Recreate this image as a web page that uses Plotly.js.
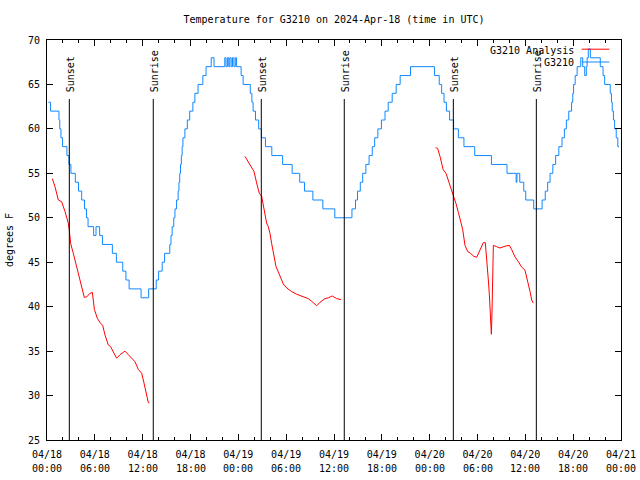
<!DOCTYPE html>
<html>
<head>
<meta charset="utf-8">
<script src="https://cdn.plot.ly/plotly-3.0.1.min.js"></script>
<style>html,body{margin:0;padding:0;background:#fff;}#chart{width:640px;height:480px;}</style>
</head>
<body>
<div id="chart"></div>
<script>
// ---- data (hours after 2024-04-18 00:00 UTC) ----
const stationHours = [0.17,0.45,1.5,1.6,1.75,1.95,2.5,2.75,3.0,3.55,3.95,4.35,4.7,4.95,5.15,5.85,6.15,6.6,6.95,8.2,8.7,9.5,9.9,10.3,11.8,12.75,13.7,14.0,14.45,14.75,15.4,15.55,15.7,15.9,16.05,16.25,16.45,16.55,16.65,16.75,16.85,16.95,17.05,17.3,17.6,17.9,18.3,18.55,18.95,19.55,19.95,20.6,20.95,22.3,22.45,22.63,22.8,22.93,23.1,23.27,23.45,23.62,23.78,24.35,24.6,25.5,25.7,25.85,26.15,26.55,26.9,27.4,28.2,29.55,30.75,31.7,32.3,33.35,34.6,36.1,38.25,38.7,38.95,39.3,39.6,40.0,40.4,40.8,41.1,41.5,41.95,42.4,42.8,43.3,43.8,44.3,45.6,48.6,49.2,49.5,49.8,50.1,50.5,51.0,51.6,52.3,53.65,55.75,57.7,58.85,58.95,59.3,59.8,60.05,61.05,62.1,62.5,62.8,63.1,63.45,63.8,64.2,64.6,64.9,65.15,65.45,65.8,65.95,66.05,66.25,66.5,66.95,67.2,67.45,67.65,67.75,67.9,68.15,69.4,69.75,69.95,70.65,70.8,70.9,71.05,71.2,71.4,71.6,71.75];
const stationTemps = [63,62,61,60,59,58,57,56,55,54,53,52,51,50,49,48,49,48,47,46,45,44,43,42,41,42,43,44,45,46,47,48,49,50,51,52,53,54,55,56,57,58,59,60,61,62,63,64,65,66,67,68,67,68,67,68,67,68,67,68,67,68,67,66,65,64,63,62,61,60,59,58,57,56,55,54,53,52,51,50,51,52,53,54,55,56,57,58,59,60,61,62,63,64,65,66,67,66,65,64,63,62,61,60,59,58,57,56,55,54,55,54,53,52,51,52,53,54,55,56,57,58,59,60,61,62,63,64,65,66,67,68,67,66,67,68,69,68,67,66,65,64,63,62,61,60,59,58,58];

const analysisHours1 = [0.67,1.0,1.42,1.84,2.26,2.67,2.8,2.97,3.3,3.72,4.14,4.43,4.68,4.98,5.39,5.69,5.94,6.31,6.65,6.98,7.28,7.69,7.99,8.32,8.74,9.16,9.78,10.2,10.6,11.04,11.45,11.88,12.17,12.42,12.71,12.84];
const analysisTemps1 = [54.4,53.5,52.0,51.8,50.7,49.4,48.6,47.1,46.0,44.5,43.0,42.1,41.05,41.1,41.5,41.6,39.7,38.7,38.2,37.9,36.8,35.7,35.5,34.9,34.2,34.6,35.0,34.6,34.2,33.8,32.95,32.5,31.4,30.25,29.2,29.2];
const analysisHours2 = [24.84,25.25,25.67,25.97,26.3,26.63,26.93,27.22,27.55,27.76,27.97,28.18,28.39,28.73,29.02,29.31,29.64,30.07,30.69,31.32,31.95,32.78,33.2,33.83,34.25,34.87,35.29,35.79,36.34,36.88];
const analysisTemps2 = [56.9,56.3,55.75,55.2,53.9,52.75,52.4,50.9,49.4,49.0,48.25,47.1,46.0,44.5,43.9,43.2,42.55,42.1,41.7,41.4,41.2,40.9,40.6,40.1,40.5,40.9,41.0,41.2,40.9,40.8];
const analysisHours3 = [48.75,49.0,49.3,49.7,50.05,50.47,50.89,51.3,51.6,51.9,52.14,52.43,52.77,53.14,53.48,53.9,54.23,54.53,54.73,54.98,55.15,55.36,55.49,55.57,55.65,55.74,55.82,55.9,55.99,56.4,56.8,57.45,58.0,58.3,58.7,59.1,59.5,59.96,60.17,60.38,60.59,60.8,61.0];
const analysisTemps3 = [57.9,57.8,56.9,55.4,55.0,53.9,52.9,51.6,50.6,49.6,48.7,46.9,46.2,46.0,45.7,45.55,46.2,46.9,47.2,47.2,44.7,43.0,41.3,39.6,37.75,36.9,39.4,44.5,46.9,46.75,46.6,46.8,46.9,46.4,45.6,45.1,44.5,44.1,43.4,42.6,41.7,40.75,40.4];

const sunsetHours = [2.80, 26.88, 50.97];
const sunriseHours = [13.33, 37.29, 61.38];

const tickHours = [0,6,12,18,24,30,36,42,48,54,60,66,72];
const tickDates = ["04/18","04/18","04/18","04/18","04/19","04/19","04/19","04/19","04/20","04/20","04/20","04/20","04/21"];
const tickTimes = ["00:00","06:00","12:00","18:00","00:00","06:00","12:00","18:00","00:00","06:00","12:00","18:00","00:00"];

const seriesNames = ["G3210 Analysis", "G3210"];
const RED = "#ff0000", BLUE = "rgb(16,136,255)";
const FONT = "DejaVu Sans Mono";

// ---- traces ----
const traces = [
  {x: analysisHours1, y: analysisTemps1, mode: "lines", line: {color: RED, width: 1}, name: seriesNames[0], showlegend: false},
  {x: analysisHours2, y: analysisTemps2, mode: "lines", line: {color: RED, width: 1}, name: seriesNames[0], showlegend: false},
  {x: analysisHours3, y: analysisTemps3, mode: "lines", line: {color: RED, width: 1}, name: seriesNames[0], showlegend: false},
  {x: stationHours, y: stationTemps, mode: "lines", line: {color: BLUE, width: 1, shape: "hv"}, name: seriesNames[1], showlegend: false}
];

const shapes = [];
const annotations = [];
const lineTop = 63.36;
const labelBottom = 64.15;
function sunMark(h, label) {
  shapes.push({type: "line", xref: "x", yref: "y", x0: h, x1: h, y0: 25, y1: lineTop, line: {color: "#000", width: 1}});
  annotations.push({xref: "x", yref: "y", x: h, y: labelBottom, text: label, textangle: -90, showarrow: false,
    xanchor: "center", yanchor: "bottom", xshift: 1, yshift: -2, font: {family: FONT, size: 10, color: "#000"}});
}
sunsetHours.forEach(h => sunMark(h, "Sunset"));
sunriseHours.forEach(h => sunMark(h, "Sunrise"));

// second row of the time-axis labels (gnuplot spacing)
tickHours.forEach((h, i) => {
  annotations.push({xref: "x", yref: "paper", x: h, y: -0.07, text: tickTimes[i], showarrow: false,
    xanchor: "center", yanchor: "middle", font: {family: FONT, size: 10, color: "#000"}});
});

// manual gnuplot-style key (text left, sample right)
const keyY = [0.975, 0.943];
const keyColors = [RED, BLUE];
seriesNames.forEach((n, i) => {
  annotations.push({xref: "paper", yref: "paper", x: 0.921, y: keyY[i], text: n, showarrow: false,
    xanchor: "right", yanchor: "middle", font: {family: FONT, size: 10, color: "#000"}});
  shapes.push({type: "line", xref: "paper", yref: "paper", x0: 0.9315, x1: 0.9796, y0: keyY[i] + 0.002, y1: keyY[i] + 0.002, line: {color: keyColors[i], width: 1}});
});

const layout = {
  width: 640, height: 480,
  margin: {l: 47, r: 19, t: 40, b: 40, pad: 0},
  paper_bgcolor: "#fff", plot_bgcolor: "#fff",
  font: {family: FONT, size: 10, color: "#000"},
  title: {text: "Temperature for G3210 on 2024-Apr-18 (time in UTC)", font: {family: FONT, size: 10, color: "#000"},
    x: 0.5, xref: "paper", xanchor: "center", y: 1 - 19/480, yref: "container", yanchor: "middle"},
  xaxis: {range: [0, 72], tickmode: "array", tickvals: tickHours, ticktext: tickDates,
    ticks: "inside", ticklen: 6, tickcolor: "#000", showline: true, linecolor: "#000", linewidth: 1,
    mirror: "allticks", showgrid: false, zeroline: false, fixedrange: true, ticklabelstandoff: 5,
    minor: {tickmode: "linear", tick0: 0, dtick: 2, ticks: "inside", ticklen: 3, tickcolor: "#000", showgrid: false},
    tickfont: {family: FONT, size: 10, color: "#000"}},
  yaxis: {range: [25, 70], tickmode: "linear", tick0: 25, dtick: 5,
    ticks: "inside", ticklen: 6, tickcolor: "#000", showline: true, linecolor: "#000", linewidth: 1,
    mirror: "allticks", showgrid: false, zeroline: false, fixedrange: true, ticklabelstandoff: 4,
    tickfont: {family: FONT, size: 10, color: "#000"},
    title: {text: "degrees F", font: {family: FONT, size: 10, color: "#000"}, standoff: 12}},
  showlegend: false,
  shapes: shapes,
  annotations: annotations
};

Plotly.newPlot("chart", traces, layout, {staticPlot: true, displayModeBar: false});
</script>
</body>
</html>
